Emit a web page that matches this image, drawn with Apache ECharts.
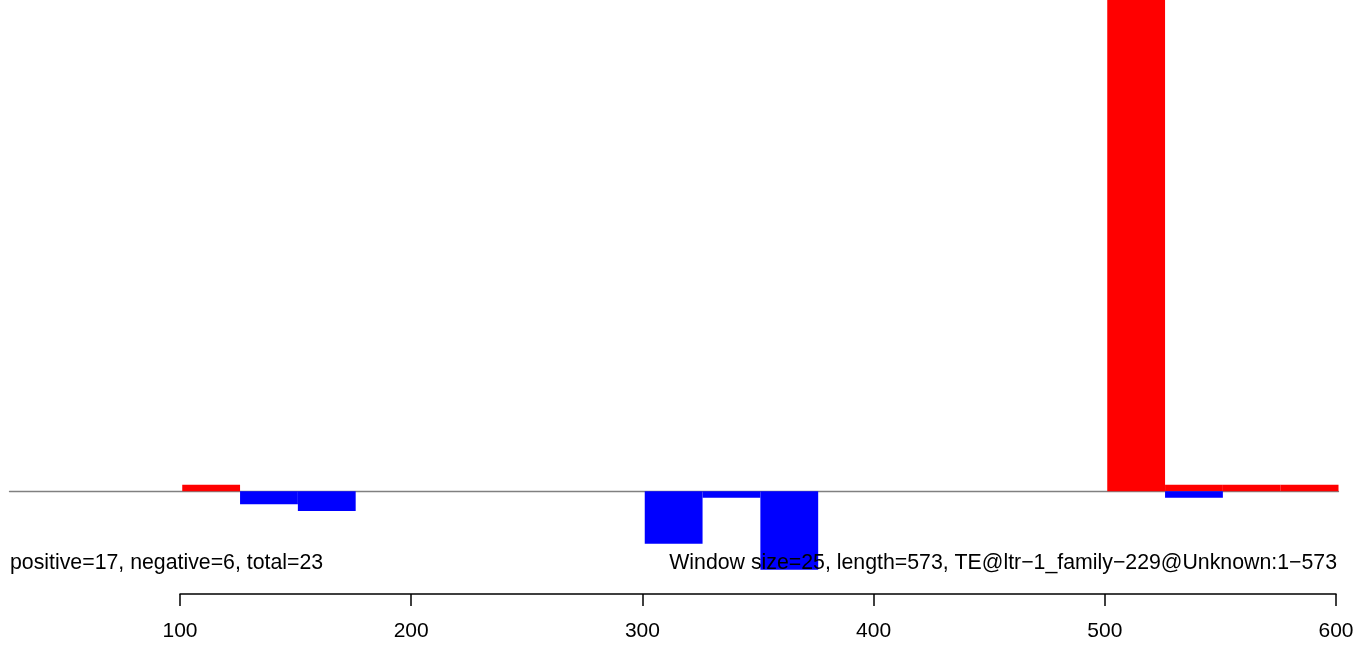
<!DOCTYPE html>
<html>
<head>
<meta charset="utf-8">
<script src="https://cdn.jsdelivr.net/npm/echarts@6/dist/echarts.min.js"></script>
<style>
html,body{margin:0;padding:0;background:#fff;}
#chart{width:1358px;height:645px;}
</style>
</head>
<body>
<div id="chart"></div>
<script>
// ---- data ----
var windowSize = 25;
var posStart = [101, 501, 526, 551, 576];
var posValue = [1, 100, 1, 1, 1];
var negStart = [126, 151, 301, 326, 351, 526];
var negValue = [-2, -3, -8, -1, -12, -1];
var tickValues = [100, 200, 300, 400, 500, 600];
var leftNote = 'positive=17, negative=6, total=23';
var rightNote = 'Window size=25, length=573, TE@ltr\u22121_family\u2212229@Unknown:1\u2212573';

var FONT = '"Liberation Sans", Arial, Helvetica, sans-serif';

function buildData(starts, values) {
  return starts.map(function (s, i) { return [s, s + windowSize, values[i]]; });
}

function renderBar(color) {
  return function (params, api) {
    var p0 = api.coord([api.value(0), 0]);
    var p1 = api.coord([api.value(1), api.value(2)]);
    var rect = echarts.graphic.clipRectByRect({
      x: p0[0],
      y: Math.min(p0[1], p1[1]),
      width: p1[0] - p0[0],
      height: Math.abs(p1[1] - p0[1])
    }, {
      x: params.coordSys.x,
      y: params.coordSys.y,
      width: params.coordSys.width,
      height: params.coordSys.height
    });
    return rect && {
      type: 'rect',
      shape: rect,
      style: { fill: color }
    };
  };
}

var chart = echarts.init(document.getElementById('chart'), null, { renderer: 'canvas' });
chart.setOption({
  animation: false,
  backgroundColor: '#ffffff',
  grid: [
    { left: 9.5, right: 19.5, top: 0, height: 622.25 },
    { left: 180, right: 22, top: 590, height: 4 }
  ],
  xAxis: [
    {
      gridIndex: 0, type: 'value', min: 26.3, max: 601,
      axisLine: { show: true, onZero: true, lineStyle: { color: '#808080', width: 1.3 } },
      axisTick: { show: false }, axisLabel: { show: false }, splitLine: { show: false }
    },
    {
      gridIndex: 1, type: 'value', min: 100, max: 600, interval: 100, position: 'bottom',
      axisLine: { show: true, onZero: false, lineStyle: { color: '#000000', width: 1.5 } },
      axisTick: { show: true, length: 12, lineStyle: { color: '#000000', width: 1.5 } },
      axisLabel: {
        show: true, margin: 27, color: '#000000', fontSize: 21, fontFamily: FONT,
        customValues: tickValues,
        formatter: function (v) { return String(v); }
      },
      splitLine: { show: false }
    }
  ],
  yAxis: [
    { gridIndex: 0, type: 'value', min: -20, max: 75, show: false, splitLine: { show: false } },
    { gridIndex: 1, type: 'value', min: 0, max: 1, show: false, splitLine: { show: false } }
  ],
  series: [
    {
      type: 'custom', name: 'positive', xAxisIndex: 0, yAxisIndex: 0,
      renderItem: renderBar('#ff0000'),
      encode: { x: [0, 1], y: 2 },
      data: buildData(posStart, posValue)
    },
    {
      type: 'custom', name: 'negative', xAxisIndex: 0, yAxisIndex: 0,
      renderItem: renderBar('#0000ff'),
      encode: { x: [0, 1], y: 2 },
      data: buildData(negStart, negValue)
    }
  ],
  graphic: [
    {
      type: 'text', left: 10, top: 553, z: 10,
      style: { text: leftNote, fill: '#000000', font: '21.3px ' + FONT }
    },
    {
      type: 'text', right: 21, top: 553, z: 10,
      style: { text: rightNote, fill: '#000000', font: '21.3px ' + FONT }
    }
  ]
});
</script>
</body>
</html>
